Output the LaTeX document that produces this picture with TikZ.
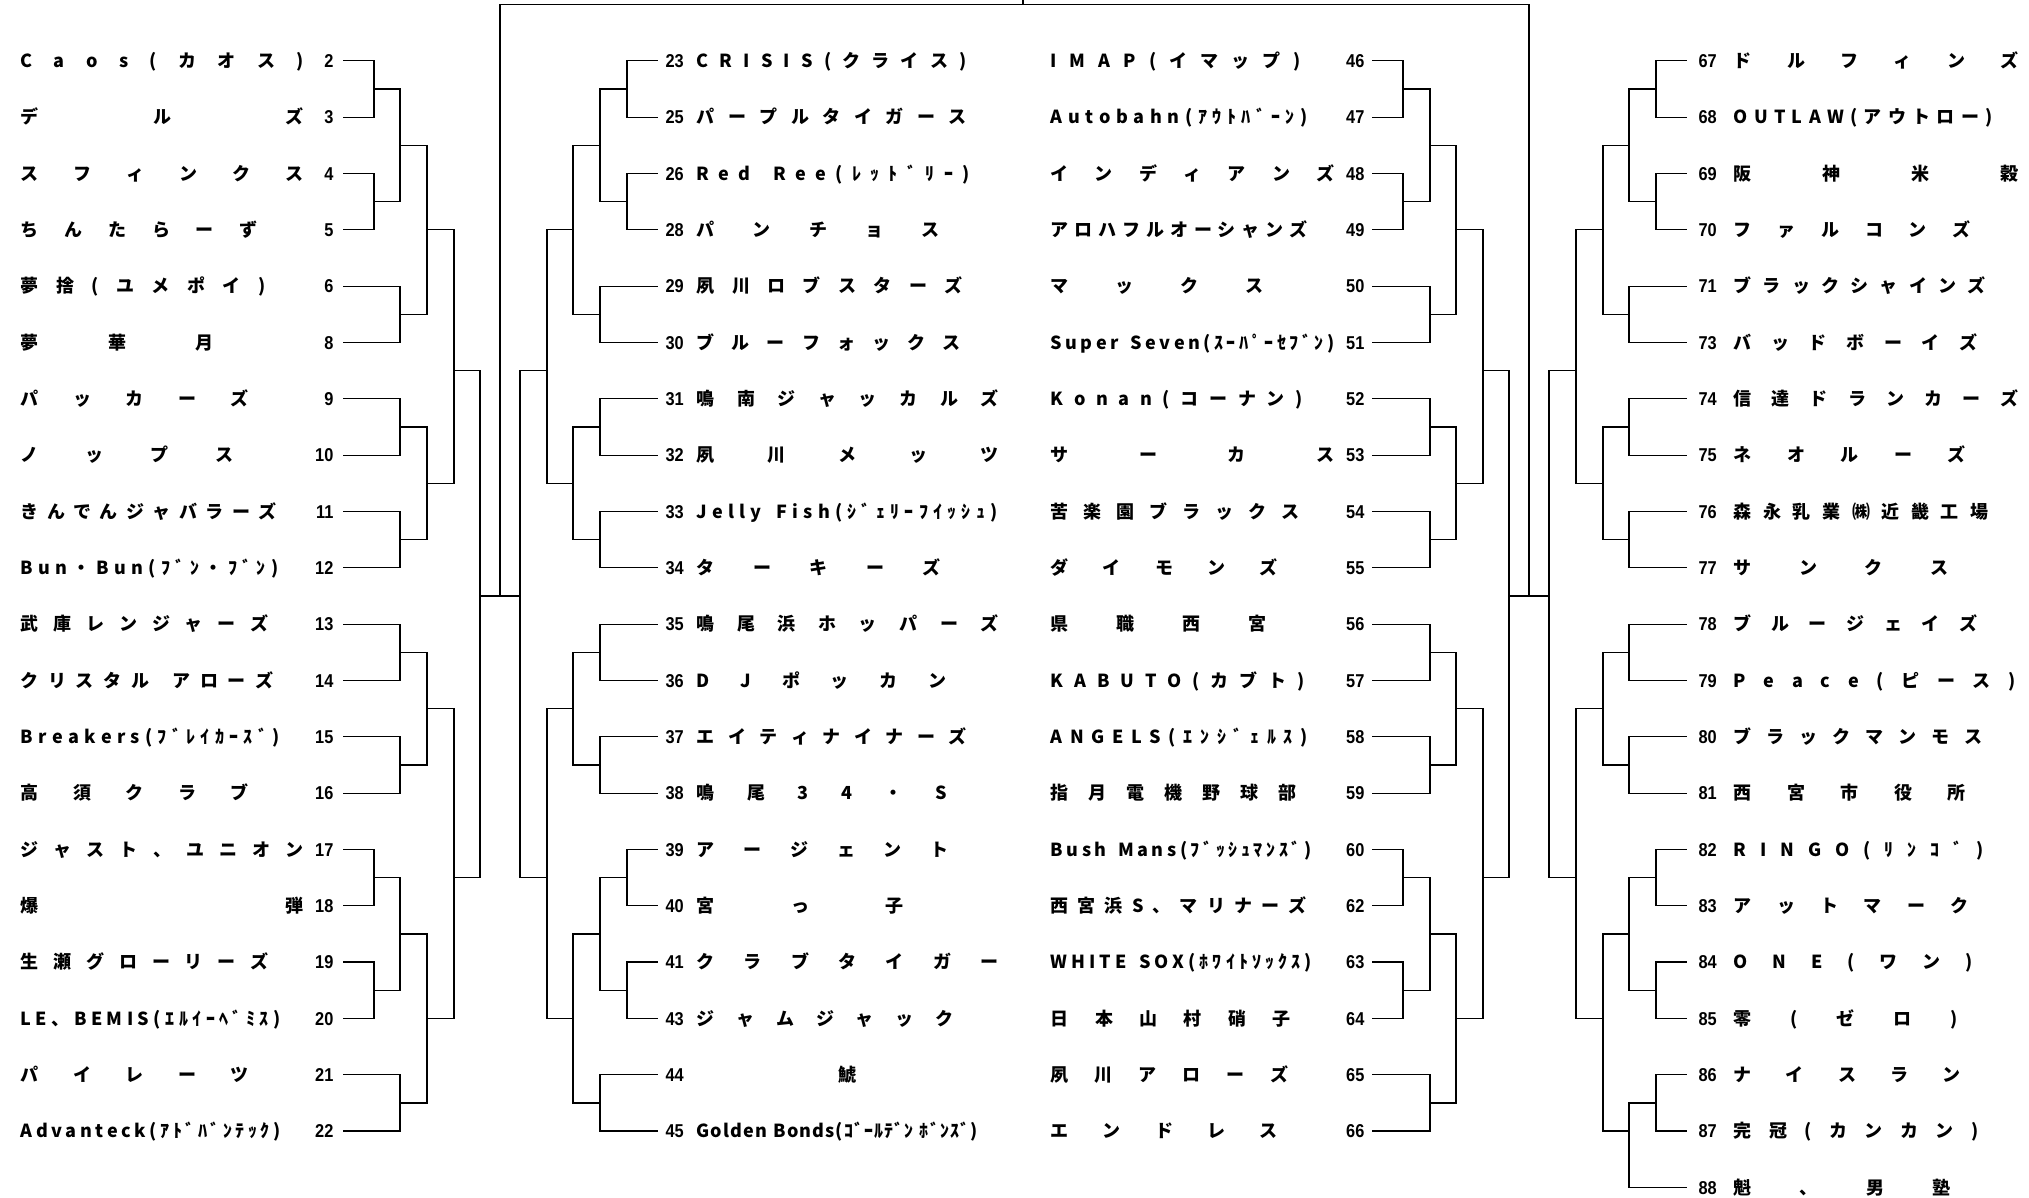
\documentclass[tikz,border=0pt]{standalone}
\usepackage{fontspec}
\newfontfamily\jpf{Noto Sans CJK JP}
\newfontfamily\numf{Liberation Sans}[FakeStretch=0.88]
\def\spread#1{\spreadA#1\relax}
\def\spreadA#1{#1\spreadB}
\def\spreadB#1{\ifx\relax#1\else\hfill#1\expandafter\spreadB\fi}
% left column: row, number, name, name end (px), stub x
\newcommand\teamL[5]{%
  \node[num,anchor=east] (n#2) at (334,#1) {#2};
  \node[nm,anchor=west] (t#2) at (20,#1) {\makebox[\dimexpr(#4pt-20pt)/2\relax][s]{\spread{#3}}};
  \draw ([xshift=5pt]n#2.east) -- (#5,#1);}
\newcommand\teamML[5]{%
  \node[num,anchor=west] (n#2) at (665,#1) {#2};
  \node[nm,anchor=west] (t#2) at (696,#1) {\makebox[\dimexpr(#4pt-696pt)/2\relax][s]{\spread{#3}}};
  \draw ([xshift=-4pt]n#2.west) -- (#5,#1);}
\newcommand\teamMR[5]{%
  \node[num,anchor=east] (n#2) at (1365,#1) {#2};
  \node[nm,anchor=west] (t#2) at (1050,#1) {\makebox[\dimexpr(#4pt-1050pt)/2\relax][s]{\spread{#3}}};
  \draw ([xshift=4pt]n#2.east) -- (#5,#1);}
\newcommand\teamR[5]{%
  \node[num,anchor=west] (n#2) at (1698,#1) {#2};
  \node[nm,anchor=west] (t#2) at (1733,#1) {\makebox[\dimexpr(#4pt-1733pt)/2\relax][s]{\spread{#3}}};
  \draw ([xshift=-6pt]n#2.west) -- (#5,#1);}
\newcommand\bk[5]{\draw (#1,#2) -- (#1,#3) (#1,#4) -- (#5,#4);}
\begin{document}
\begin{tikzpicture}[x=0.5pt,y=-28.165pt,line width=0.6pt,line cap=rect,
  num/.style={font=\numf\bfseries\fontsize{9.3}{10}\selectfont,inner sep=0pt,text height=6.66pt,text depth=0pt},
  nm/.style={font=\jpf\bfseries\fontsize{9}{10}\selectfont,inner sep=0pt,text height=6.8pt,text depth=0pt}]
\useasboundingbox (0,-1.0794) rectangle (2029,20.188);
% ---------------- left column
\teamL{0}{2}{Caos(カオス)}{303}{374}
\teamL{1}{3}{デルズ}{303}{374}
\teamL{2}{4}{スフィンクス}{303}{374}
\teamL{3}{5}{ちんたらーず}{257}{374}
\teamL{4}{6}{夢捨(ユメポイ)}{265}{400}
\teamL{5}{8}{夢華月}{213}{400}
\teamL{6}{9}{パッカーズ}{248}{400}
\teamL{7}{10}{ノップス}{233}{400}
\teamL{8}{11}{きんでんジャバラーズ}{276}{400}
\teamL{9}{12}{Bun・Bun(ﾌﾞﾝ・ﾌﾞﾝ)}{278}{400}
\teamL{10}{13}{武庫レンジャーズ}{268}{400}
\teamL{11}{14}{クリスタル~アローズ}{273}{400}
\teamL{12}{15}{Breakers(ﾌﾞﾚｲｶｰｽﾞ)}{279}{400}
\teamL{13}{16}{高須クラブ}{248}{400}
\teamL{14}{17}{ジャスト、ユニオン}{303}{374}
\teamL{15}{18}{爆弾}{303}{374}
\teamL{16}{19}{生瀬グローリーズ}{268}{374}
\teamL{17}{20}{LE、BEMIS(ｴﾙｲｰﾍﾞﾐｽ)}{280}{374}
\teamL{18}{21}{パイレーツ}{248}{400}
\teamL{19}{22}{Advanteck(ｱﾄﾞﾊﾞﾝﾃｯｸ)}{280}{400}
\bk{374}{0}{1}{0.5}{400}
\bk{374}{2}{3}{2.5}{400}
\bk{400}{0.5}{2.5}{1.5}{427}
\bk{400}{4}{5}{4.5}{427}
\bk{427}{1.5}{4.5}{3}{454}
\bk{400}{6}{7}{6.5}{427}
\bk{400}{8}{9}{8.5}{427}
\bk{427}{6.5}{8.5}{7.5}{454}
\bk{454}{3}{7.5}{5.5}{480}
\bk{400}{10}{11}{10.5}{427}
\bk{400}{12}{13}{12.5}{427}
\bk{427}{10.5}{12.5}{11.5}{454}
\bk{374}{14}{15}{14.5}{400}
\bk{374}{16}{17}{16.5}{400}
\bk{400}{14.5}{16.5}{15.5}{427}
\bk{400}{18}{19}{18.5}{427}
\bk{427}{15.5}{18.5}{17}{454}
\bk{454}{11.5}{17}{14.5}{480}
\bk{480}{5.5}{14.5}{9.5}{520}
% ---------------- middle left
\teamML{0}{23}{CRISIS(クライス)}{966}{627}
\teamML{1}{25}{パープルタイガース}{966}{627}
\teamML{2}{26}{Red~Ree(ﾚｯﾄﾞﾘｰ)}{969}{627}
\teamML{3}{28}{パンチョス}{939}{627}
\teamML{4}{29}{夙川ロブスターズ}{962}{600}
\teamML{5}{30}{ブルーフォックス}{960}{600}
\teamML{6}{31}{鳴南ジャッカルズ}{998}{600}
\teamML{7}{32}{夙川メッツ}{998}{600}
\teamML{8}{33}{Jelly~Fish(ｼﾞｪﾘｰﾌｲｯｼｭ)}{997}{600}
\teamML{9}{34}{ターキーズ}{940}{600}
\teamML{10}{35}{鳴尾浜ホッパーズ}{998}{600}
\teamML{11}{36}{DJポッカン}{946}{600}
\teamML{12}{37}{エイティナイナーズ}{966}{600}
\teamML{13}{38}{鳴尾34・S}{946}{600}
\teamML{14}{39}{アージェント}{948}{627}
\teamML{15}{40}{宮っ子}{903}{627}
\teamML{16}{41}{クラブタイガー}{998}{627}
\teamML{17}{43}{ジャムジャック}{953}{627}
\teamML{18}{44}{　鯱　}{998}{600}
\teamML{19}{45}{Golden~Bonds(ｺﾞｰﾙﾃﾞﾝ~ﾎﾞﾝｽﾞ)}{977}{600}
\bk{627}{0}{1}{0.5}{600}
\bk{627}{2}{3}{2.5}{600}
\bk{600}{0.5}{2.5}{1.5}{573}
\bk{600}{4}{5}{4.5}{573}
\bk{573}{1.5}{4.5}{3}{547}
\bk{600}{6}{7}{6.5}{573}
\bk{600}{8}{9}{8.5}{573}
\bk{573}{6.5}{8.5}{7.5}{547}
\bk{547}{3}{7.5}{5.5}{520}
\bk{600}{10}{11}{10.5}{573}
\bk{600}{12}{13}{12.5}{573}
\bk{573}{10.5}{12.5}{11.5}{547}
\bk{627}{14}{15}{14.5}{600}
\bk{627}{16}{17}{16.5}{600}
\bk{600}{14.5}{16.5}{15.5}{573}
\bk{600}{18}{19}{18.5}{573}
\bk{573}{15.5}{18.5}{17}{547}
\bk{547}{11.5}{17}{14.5}{520}
\draw (520,5.5) -- (520,14.5);
% ---------------- middle right
\teamMR{0}{46}{IMAP(イマップ)}{1300}{1403}
\teamMR{1}{47}{Autobahn(ｱｳﾄﾊﾞｰﾝ)}{1307}{1403}
\teamMR{2}{48}{インディアンズ}{1334}{1403}
\teamMR{3}{49}{アロハフルオーシャンズ}{1307}{1403}
\teamMR{4}{50}{マックス}{1263}{1430}
\teamMR{5}{51}{Super~Seven(ｽｰﾊﾟｰｾﾌﾞﾝ)}{1334}{1430}
\teamMR{6}{52}{Konan(コーナン)}{1302}{1430}
\teamMR{7}{53}{サーカス}{1334}{1430}
\teamMR{8}{54}{苦楽園ブラックス}{1299}{1430}
\teamMR{9}{55}{ダイモンズ}{1277}{1430}
\teamMR{10}{56}{県職西宮}{1266}{1430}
\teamMR{11}{57}{KABUTO(カブト)}{1304}{1430}
\teamMR{12}{58}{ANGELS(ｴﾝｼﾞｪﾙｽ)}{1307}{1430}
\teamMR{13}{59}{指月電機野球部}{1296}{1430}
\teamMR{14}{60}{Bush~Mans(ﾌﾞｯｼｭﾏﾝｽﾞ)}{1311}{1403}
\teamMR{15}{62}{西宮浜S、マリナーズ}{1306}{1403}
\teamMR{16}{63}{WHITE~SOX(ﾎﾜｲﾄｿｯｸｽ)}{1311}{1403}
\teamMR{17}{64}{日本山村硝子}{1290}{1403}
\teamMR{18}{65}{夙川アローズ}{1288}{1430}
\teamMR{19}{66}{エンドレス}{1277}{1430}
\bk{1403}{0}{1}{0.5}{1430}
\bk{1403}{2}{3}{2.5}{1430}
\bk{1430}{0.5}{2.5}{1.5}{1456}
\bk{1430}{4}{5}{4.5}{1456}
\bk{1456}{1.5}{4.5}{3}{1483}
\bk{1430}{6}{7}{6.5}{1456}
\bk{1430}{8}{9}{8.5}{1456}
\bk{1456}{6.5}{8.5}{7.5}{1483}
\bk{1483}{3}{7.5}{5.5}{1509}
\bk{1430}{10}{11}{10.5}{1456}
\bk{1430}{12}{13}{12.5}{1456}
\bk{1456}{10.5}{12.5}{11.5}{1483}
\bk{1403}{14}{15}{14.5}{1430}
\bk{1403}{16}{17}{16.5}{1430}
\bk{1430}{14.5}{16.5}{15.5}{1456}
\bk{1430}{18}{19}{18.5}{1456}
\bk{1456}{15.5}{18.5}{17}{1483}
\bk{1483}{11.5}{17}{14.5}{1509}
\bk{1509}{5.5}{14.5}{9.5}{1549}
% ---------------- right column
\teamR{0}{67}{ドルフィンズ}{2018}{1656}
\teamR{1}{68}{OUTLAW(アウトロー)}{1992}{1656}
\teamR{2}{69}{阪神米穀}{2018}{1656}
\teamR{3}{70}{ファルコンズ}{1970}{1656}
\teamR{4}{71}{ブラックシャインズ}{1985}{1629}
\teamR{5}{73}{バッドボーイズ}{1977}{1629}
\teamR{6}{74}{信達ドランカーズ}{2018}{1629}
\teamR{7}{75}{ネオルーズ}{1965}{1629}
\teamR{8}{76}{森永乳業㈱近畿工場}{1988}{1629}
\teamR{9}{77}{サンクス}{1948}{1629}
\teamR{10}{78}{ブルージェイズ}{1977}{1629}
\teamR{11}{79}{Peace(ピース)}{2015}{1629}
\teamR{12}{80}{ブラックマンモス}{1982}{1629}
\teamR{13}{81}{西宮市役所}{1965}{1629}
\teamR{14}{82}{RINGO(ﾘﾝｺﾞ)}{1983}{1656}
\teamR{15}{83}{アットマーク}{1968}{1656}
\teamR{16}{84}{ONE(ワン)}{1972}{1656}
\teamR{17}{85}{零(ゼロ)}{1957}{1656}
\teamR{18}{86}{ナイスラン}{1960}{1656}
\teamR{19}{87}{完冠(カンカン)}{1978}{1656}
\teamR{20}{88}{魁、男塾}{1950}{1629}
\bk{1656}{0}{1}{0.5}{1629}
\bk{1656}{2}{3}{2.5}{1629}
\bk{1629}{0.5}{2.5}{1.5}{1603}
\bk{1629}{4}{5}{4.5}{1603}
\bk{1603}{1.5}{4.5}{3}{1576}
\bk{1629}{6}{7}{6.5}{1603}
\bk{1629}{8}{9}{8.5}{1603}
\bk{1603}{6.5}{8.5}{7.5}{1576}
\bk{1576}{3}{7.5}{5.5}{1549}
\bk{1629}{10}{11}{10.5}{1603}
\bk{1629}{12}{13}{12.5}{1603}
\bk{1603}{10.5}{12.5}{11.5}{1576}
\bk{1656}{14}{15}{14.5}{1629}
\bk{1656}{16}{17}{16.5}{1629}
\bk{1629}{14.5}{16.5}{15.5}{1603}
\bk{1656}{18}{19}{18.5}{1629}
\bk{1629}{18.5}{20}{19}{1603}
\bk{1603}{15.5}{19}{17}{1576}
\bk{1576}{11.5}{17}{14.5}{1549}
\draw (1549,5.5) -- (1549,14.5);
% ---------------- final
\coordinate (finL) at (500,9.5);
\coordinate (finR) at (1529,9.5);
\coordinate (champ) at (1023,-1);
\draw (finL) -- (500,-1) -- (1529,-1) -- (finR);
\draw (champ) -- (1023,-1.1);
\end{tikzpicture}
\end{document}
